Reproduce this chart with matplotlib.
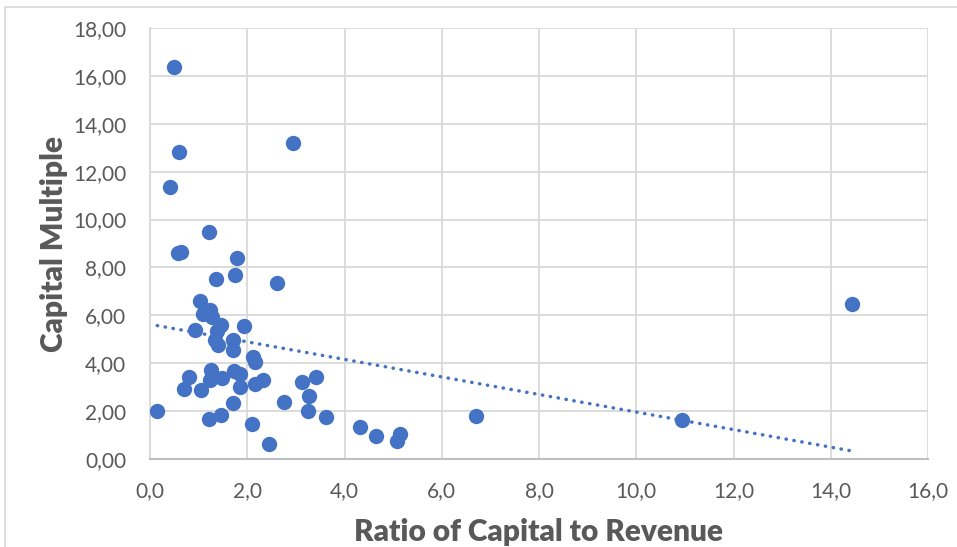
import matplotlib.pyplot as plt
from matplotlib.patches import Rectangle
from matplotlib.ticker import FuncFormatter
import numpy as np

# ratio of capital to revenue vs capital multiple
capital_to_revenue = [
    0.15, 0.41, 0.50, 0.58, 0.64, 0.60, 0.69, 0.80, 0.92, 1.03,
    1.04, 1.09, 1.22, 1.23, 1.22, 1.24, 1.26, 1.27, 1.34, 1.36,
    1.37, 1.39, 1.46, 1.47, 1.49, 1.70, 1.70, 1.71, 1.72, 1.74,
    1.78, 1.85, 1.85, 1.94, 2.10, 2.11, 2.15, 2.15, 2.33, 2.44,
    2.62, 2.75, 2.95, 3.12, 3.25, 3.28, 3.41, 3.62, 4.32, 4.65,
    5.08, 5.14, 6.71, 10.94, 14.43,
]
capital_multiple = [
    1.99, 11.37, 16.39, 8.62, 8.65, 12.82, 2.93, 3.42, 5.39, 6.58,
    2.90, 6.06, 9.46, 6.21, 1.66, 3.30, 3.72, 5.93, 4.98, 7.53,
    5.33, 4.75, 5.59, 1.84, 3.40, 4.56, 4.99, 2.35, 3.66, 7.68,
    8.39, 3.55, 3.01, 5.56, 1.45, 4.26, 4.05, 3.12, 3.30, 0.63,
    7.33, 2.38, 13.19, 3.21, 1.99, 2.64, 3.44, 1.74, 1.35, 0.95,
    0.74, 1.05, 1.80, 1.63, 6.49,
]

x_label = "Ratio of Capital to Revenue"
y_label = "Capital Multiple"

BLUE = "#4472C4"
GREY_TXT = "#595959"
GRID = "#D9D9D9"

plt.rcParams['font.family'] = ['Lato', 'DejaVu Sans']

W, H = 957, 547
fig = plt.figure(figsize=(W / 100, H / 100), dpi=100)
fig.patches.append(Rectangle((5 / W, -0.1), 1.2, 1 - 7 / H + 0.1, transform=fig.transFigure,
                             fill=False, edgecolor=GRID, linewidth=1.2))

ax = fig.add_axes([150 / W, 1 - 459 / H, (928 - 150) / W, (459 - 28) / H])

x = np.array(capital_to_revenue)
y = np.array(capital_multiple)

ax.scatter(x, y, s=122, color=BLUE, zorder=3, linewidths=0)

# linear trendline like excel
k, b = np.polyfit(x, y, 1)
xs = np.array([x.min(), x.max()])
ax.plot(xs, k * xs + b, color=BLUE, linewidth=2.5, linestyle=(0, (0.1, 2.2)),
        dash_capstyle='round', zorder=2)

ax.set_xlim(0, 16)
ax.set_ylim(0, 18)
ax.set_xticks(np.arange(0, 17, 2))
ax.set_yticks(np.arange(0, 19, 2))
ax.xaxis.set_major_formatter(FuncFormatter(lambda v, p: f"{v:.1f}".replace('.', ',')))
ax.yaxis.set_major_formatter(FuncFormatter(lambda v, p: f"{v:.2f}".replace('.', ',')))

ax.grid(True, color=GRID, linewidth=1.3, zorder=0)
ax.set_axisbelow(True)
for s in ax.spines.values():
    s.set_visible(False)
ax.spines['left'].set_visible(True)
ax.spines['bottom'].set_visible(True)
ax.spines['left'].set_color(GRID)
ax.spines['bottom'].set_color("#BFBFBF")
ax.spines['left'].set_linewidth(1.3)
ax.spines['bottom'].set_linewidth(1.5)

ax.tick_params(length=0, labelsize=15, labelcolor=GREY_TXT)
ax.tick_params(axis='y', pad=17)
ax.tick_params(axis='x', pad=16)

ax.set_xlabel(x_label, fontsize=21.5, fontweight='heavy', color=GREY_TXT, labelpad=12)
ax.set_ylabel(y_label, fontsize=21.5, fontweight='heavy', color=GREY_TXT, labelpad=4)

fig.savefig("out.png", dpi=100)
